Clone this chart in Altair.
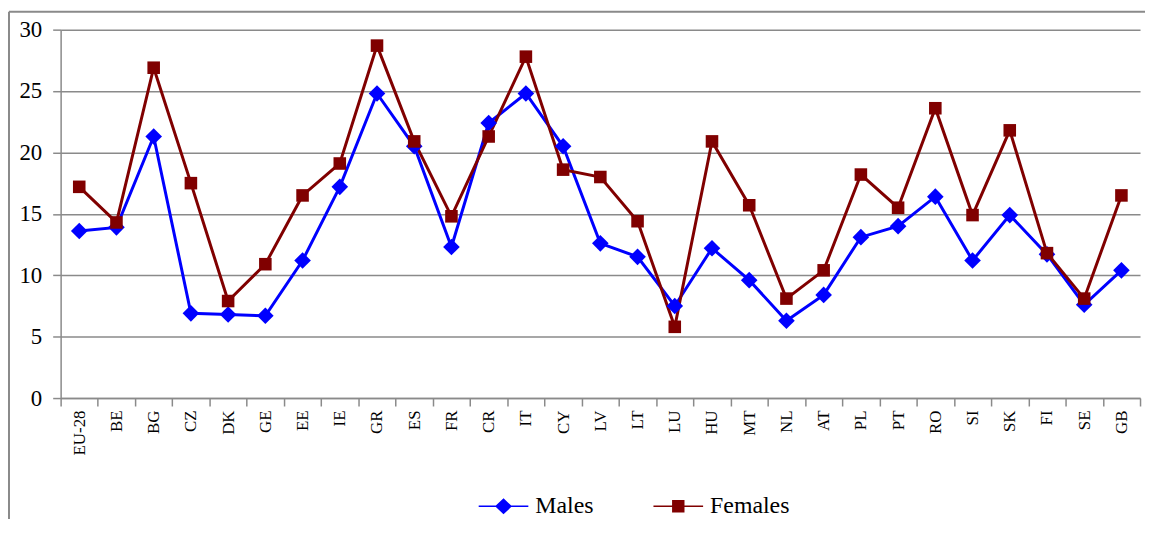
import altair as alt
import pandas as pd

countries = ["EU-28", "BE", "BG", "CZ", "DK", "GE", "EE", "IE", "GR", "ES", "FR", "CR", "IT", "CY",
             "LV", "LT", "LU", "HU", "MT", "NL", "AT", "PL", "PT", "RO", "SI", "SK", "FI", "SE", "GB"]
males = [13.6, 13.9, 21.3, 6.9, 6.8, 6.7, 11.2, 17.2, 24.8, 20.5, 12.3, 22.4, 24.8, 20.5,
         12.6, 11.5, 7.5, 12.2, 9.6, 6.3, 8.4, 13.1, 14.0, 16.4, 11.2, 14.9, 11.7, 7.6, 10.4]
females = [17.2, 14.3, 26.9, 17.5, 7.9, 10.9, 16.5, 19.1, 28.7, 20.9, 14.8, 21.3, 27.8, 18.6,
           18.0, 14.4, 5.8, 20.9, 15.7, 8.1, 10.4, 18.2, 15.5, 23.6, 14.9, 21.8, 11.8, 8.1, 16.5]
series = ["Males", "Females"]
y_ticks = [0, 5, 10, 15, 20, 25, 30]

rows = []
for c, m, f in zip(countries, males, females):
    rows.append({"country": c, "series": "Males", "value": m})
    rows.append({"country": c, "series": "Females", "value": f})
df = pd.DataFrame(rows)

FONT = "Liberation Serif"
GRAY = "#8a8a8a"
colors = ["#0000FF", "#800000"]

W, H = 1087, 371

x_enc = alt.X("country:N", sort=countries, title=None,
              scale=alt.Scale(type="band", paddingInner=0, paddingOuter=0),
              axis=alt.Axis(labelAngle=270, tickBand="extent", grid=False,
                            labelFont=FONT, labelFontSize=17))
y_enc = alt.Y("value:Q", title=None,
              scale=alt.Scale(domain=[0, 30], nice=False),
              axis=alt.Axis(values=y_ticks, grid=True, labelFont=FONT, labelFontSize=23))

base = alt.Chart(df)

lines = base.mark_line(strokeWidth=3).encode(
    x=x_enc, y=y_enc,
    color=alt.Color("series:N", scale=alt.Scale(domain=series, range=colors), legend=None),
    detail="series:N",
)

points = base.mark_point(filled=True, opacity=1).encode(
    x=alt.X("country:N", sort=countries), y=alt.Y("value:Q"),
    color=alt.Color("series:N", scale=alt.Scale(domain=series, range=colors), legend=None),
    shape=alt.Shape("series:N", scale=alt.Scale(domain=series, range=["diamond", "square"]), legend=None),
    size=alt.Size("series:N", scale=alt.Scale(domain=series, range=[280, 160]), legend=None),
)

male_path = "M-1,-0.03L1,-0.03L1,0.03L-1,0.03Z M0,-0.32L0.34,0L0,0.32L-0.34,0Z"
female_path = "M-1,-0.03L1,-0.03L1,0.03L-1,0.03Z M-0.25,-0.25L0.25,-0.25L0.25,0.25L-0.25,0.25Z"

leg = alt.Legend(title=None, orient="none", direction="horizontal",
                 legendX=421, legendY=455, symbolSize=2500,
                 symbolStrokeWidth=0, symbolOpacity=1,
                 labelFont=FONT, labelFontSize=24, labelColor="black",
                 labelOffset=7, columnPadding=60, padding=0)

legend_layer = base.transform_filter("false").mark_point(filled=True).encode(
    x=alt.X("country:N", sort=countries), y=alt.Y("value:Q"),
    color=alt.Color("series:N", scale=alt.Scale(domain=series, range=colors), legend=leg),
    shape=alt.Shape("series:N", scale=alt.Scale(domain=series, range=[male_path, female_path]),
                    legend=leg),
)

frame_df = pd.DataFrame({"k": [0]})
frame_left = alt.Chart(frame_df).mark_rule(color=GRAY, strokeWidth=2).encode(
    x=alt.value(-52), y=alt.value(-18), y2=alt.value(H + 250))
frame_top = alt.Chart(frame_df).mark_rule(color=GRAY, strokeWidth=2).encode(
    x=alt.value(-52), x2=alt.value(W + 20), y=alt.value(-18))

chart = alt.layer(lines, points, legend_layer, frame_left, frame_top).resolve_scale(
    color="independent", shape="independent"
).properties(
    width=W, height=H,
    autosize=alt.AutoSizeParams(type="none"),
    padding={"left": 53, "top": 20, "right": 5, "bottom": 120},
).configure(
    background="white"
).configure_view(
    strokeWidth=0
).configure_axisX(
    labelFont=FONT, labelFontSize=17, labelColor="black",
    tickSize=8, tickColor=GRAY, domainColor=GRAY, domainWidth=1.5, tickWidth=1.5,
    labelPadding=4,
).configure_axisY(
    labelFont=FONT, labelFontSize=23, labelColor="black",
    tickSize=8, tickColor=GRAY, domainColor=GRAY, domainWidth=1.5, tickWidth=1.5,
    labelPadding=11, gridColor=GRAY, gridWidth=1.5,
).configure_legend(
    labelFont=FONT, labelFontSize=24, labelColor="black",
)

chart.save("out.html", embed_options={"renderer": "svg", "actions": False})
